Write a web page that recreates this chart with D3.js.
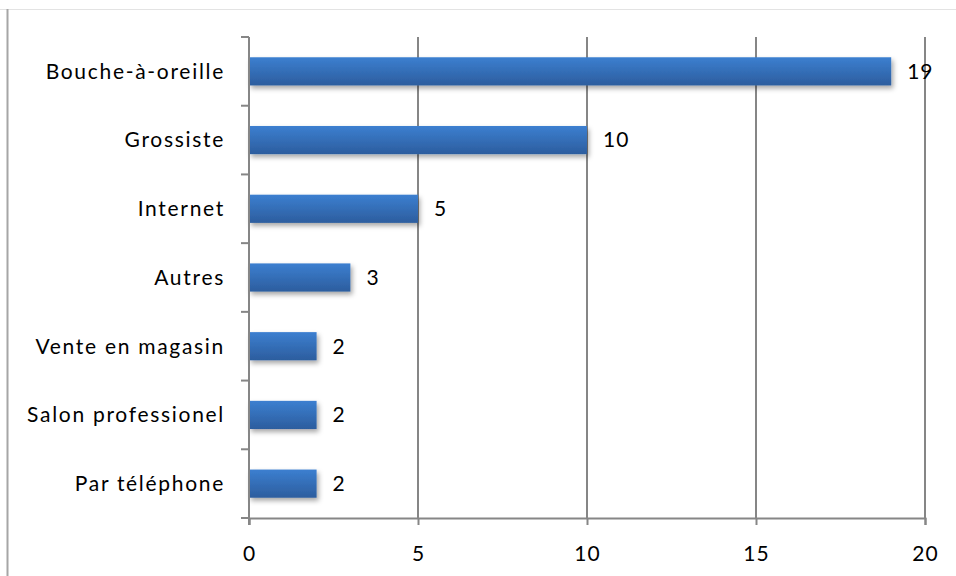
<!DOCTYPE html>
<html>
<head>
<meta charset="utf-8">
<script src="https://cdn.jsdelivr.net/npm/d3@7"></script>
<style>
  body { margin: 0; background: #fff; }
  svg { display: block; }
  text { font-family: Lato, "Open Sans", sans-serif; fill: #000; }
</style>
</head>
<body>
<svg id="chart" width="956" height="576"></svg>
<script>
const categories = ['Bouche-à-oreille', 'Grossiste', 'Internet', 'Autres', 'Vente en magasin', 'Salon professionel', 'Par téléphone']
const values = [19, 10, 5, 3, 2, 2, 2]
const xTicks = [0, 5, 10, 15, 20]

const svg = d3.select('#chart')
const margin = { left: 249, right: 31, top: 37, bottom: 58 }
const width = 956 - margin.left - margin.right
const height = 576 - margin.top - margin.bottom
const gridColor = '#868686'

// frame lines (chart is cropped in the picture)
svg.append('line')
  .attr('x1', 0).attr('x2', 956).attr('y1', 9.5).attr('y2', 9.5)
  .attr('stroke', '#e3e3e3').attr('stroke-width', 1)
svg.append('line')
  .attr('x1', 7.5).attr('x2', 7.5).attr('y1', 9).attr('y2', 576)
  .attr('stroke', '#a6a6a6').attr('stroke-width', 2)

// gradient + shadow for bars
const defs = svg.append('defs')
const grad = defs.append('linearGradient')
  .attr('id', 'barGrad').attr('x1', 0).attr('x2', 0).attr('y1', 0).attr('y2', 1)
grad.append('stop').attr('offset', '0%').attr('stop-color', '#3c7fd0')
grad.append('stop').attr('offset', '100%').attr('stop-color', '#2c5d9e')
const filter = defs.append('filter').attr('id', 'shadow')
  .attr('x', '-10%').attr('y', '-30%').attr('width', '130%').attr('height', '190%')
filter.append('feDropShadow')
  .attr('dx', 2).attr('dy', 3).attr('stdDeviation', 2.5)
  .attr('flood-color', '#000').attr('flood-opacity', 0.35)

const g = svg.append('g').attr('transform', `translate(${margin.left},${margin.top})`)

const x = d3.scaleLinear().domain([0, 20]).range([0, width])
const y = d3.scaleBand().domain(categories).range([0, height]).paddingInner(0.59).paddingOuter(0.295)
const yStep = height / categories.length

// vertical gridlines
g.selectAll('.grid')
  .data(xTicks.slice(1))
  .join('line')
  .attr('class', 'grid')
  .attr('x1', d => x(d)).attr('x2', d => x(d))
  .attr('y1', 0).attr('y2', height)
  .attr('stroke', gridColor).attr('stroke-width', 2)

// bars
g.selectAll('.bar')
  .data(values)
  .join('rect')
  .attr('class', 'bar')
  .attr('x', x(0))
  .attr('y', (d, i) => y(categories[i]))
  .attr('width', d => x(d) - x(0))
  .attr('height', y.bandwidth())
  .attr('fill', 'url(#barGrad)')
  .attr('filter', 'url(#shadow)')

// x axis
const xAxis = g.append('g')
  .attr('transform', `translate(0,${height})`)
  .call(d3.axisBottom(x).tickValues(xTicks).tickSize(7).tickPadding(21))
xAxis.select('.domain').attr('stroke', gridColor).attr('stroke-width', 2)
xAxis.selectAll('.tick line').attr('stroke', gridColor).attr('stroke-width', 2)
xAxis.selectAll('.tick text')
  .style('font-size', '21px')
  .style('letter-spacing', '1px')
  .attr('fill', '#000')

// y axis line with ticks at category boundaries
g.append('line')
  .attr('x1', 0).attr('x2', 0).attr('y1', 0).attr('y2', height + 7)
  .attr('stroke', gridColor).attr('stroke-width', 2)
g.selectAll('.ytick')
  .data(d3.range(categories.length + 1))
  .join('line')
  .attr('class', 'ytick')
  .attr('x1', -8).attr('x2', 0)
  .attr('y1', i => i * yStep).attr('y2', i => i * yStep)
  .attr('stroke', gridColor).attr('stroke-width', 2)

// category labels
g.selectAll('.cat')
  .data(categories)
  .join('text')
  .attr('class', 'cat')
  .attr('x', -24)
  .attr('y', d => y(d) + y.bandwidth() / 2)
  .attr('dy', '0.35em')
  .attr('text-anchor', 'end')
  .style('font-size', '21px')
  .style('letter-spacing', '1.7px')
  .text(d => d)

// value labels
g.selectAll('.val')
  .data(values)
  .join('text')
  .attr('class', 'val')
  .attr('x', d => x(d) + 16)
  .attr('y', (d, i) => y(categories[i]) + y.bandwidth() / 2)
  .attr('dy', '0.35em')
  .style('font-size', '21px')
  .style('letter-spacing', '1px')
  .text(d => d)
</script>
</body>
</html>
